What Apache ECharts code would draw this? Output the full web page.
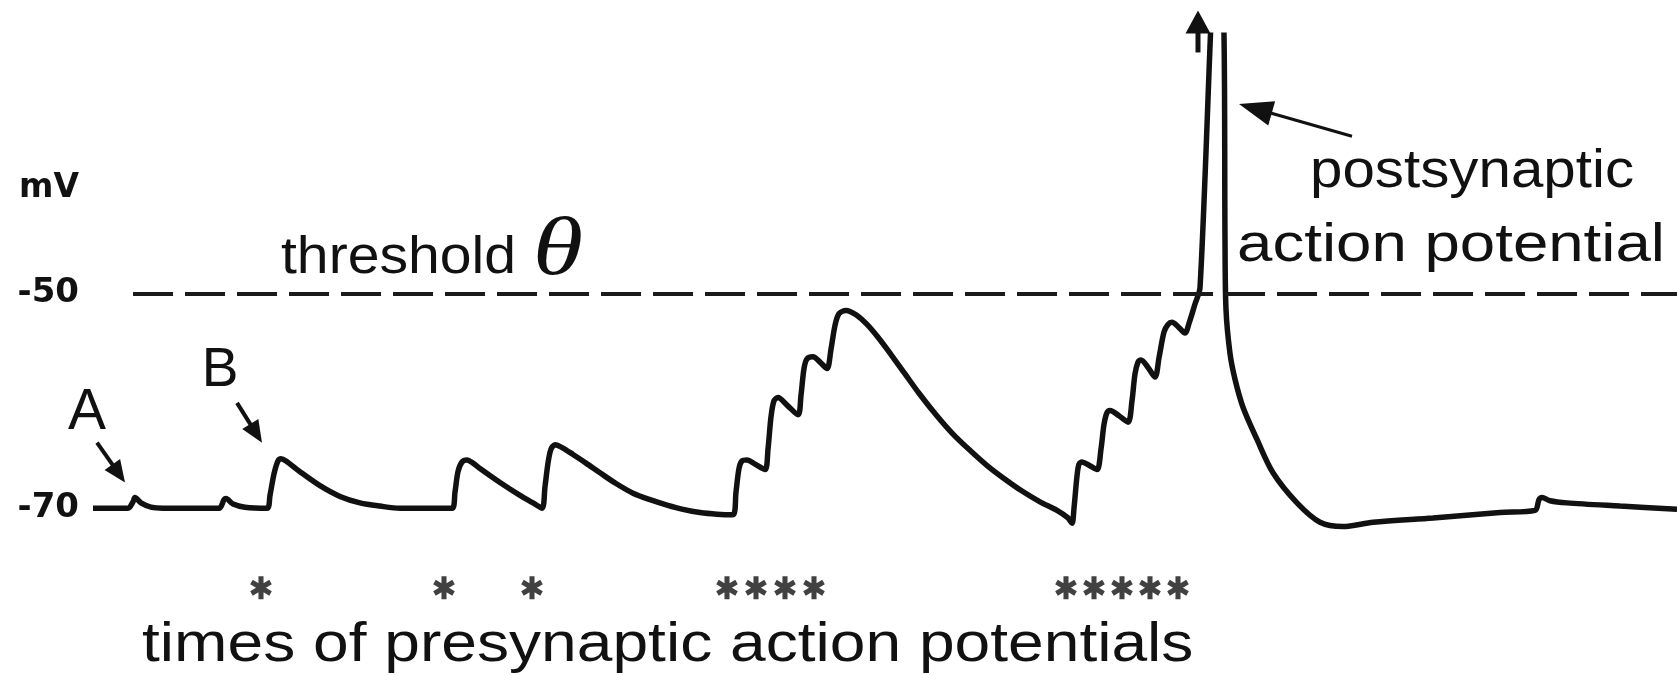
<!DOCTYPE html>
<html>
<head>
<meta charset="utf-8">
<script src="https://cdn.jsdelivr.net/npm/echarts@6/dist/echarts.min.js"></script>
<style>
  html, body { margin: 0; padding: 0; background: #ffffff; }
  #chart { width: 1677px; height: 675px; }
</style>
</head>
<body>
<div id="chart"></div>
<script>
// Postsynaptic membrane potential: time (ms) and voltage (mV)
const timeMs = [
  0.0, 3.5, 4.0, 4.2, 4.8, 5.8, 7.0, 12.6, 13.1, 13.3, 14.0, 15.2,
  17.4, 17.7, 18.1, 18.5, 18.8, 19.3, 20.7, 22.7, 24.7, 26.7, 28.7, 30.7,
  35.9, 36.2, 36.5, 36.9, 37.4, 38.0, 38.7, 40.7, 42.7, 44.0, 44.9,
  45.2, 45.5, 45.8, 46.2, 47.0, 48.0, 49.3, 50.7, 52.3, 54.0, 55.7, 57.4, 59.0, 60.7, 62.4, 64.0,
  64.3, 64.6, 64.9, 65.4, 66.2, 67.2, 67.5, 67.8, 68.1, 68.5, 69.4, 70.5,
  70.8, 71.1, 71.4, 72.0, 72.7, 73.4, 73.8, 74.2, 74.6, 75.3,
  76.3, 77.4, 78.5, 79.8, 81.2, 82.6, 84.3, 86.0, 87.8, 89.5, 91.2, 92.9, 94.7, 96.4, 97.5, 97.9,
  98.1, 98.4, 98.6, 98.9, 99.6, 100.4, 100.8, 101.1, 101.4, 101.7, 102.6, 103.5,
  103.9, 104.2, 104.5, 104.8, 105.5, 106.2, 106.6, 107.1, 107.5, 107.9, 108.5, 109.2,
  109.6, 110.2, 110.7, 112.5, 113.1, 113.2, 113.3, 113.7, 114.2, 115.0,
  116.4, 118.0, 120.4, 122.7, 125.0, 128.0, 134.0, 140.7, 144.2, 144.6, 144.9,
  145.7, 147.4, 152.7, 158.4
];
const membraneMv = [
  -70.0, -70.0, -69.4, -69.0, -69.5, -69.9, -70.0, -70.0, -69.2, -69.1, -69.6, -69.9,
  -70.0, -68.8, -66.8, -65.6, -65.4, -65.6, -66.6, -67.9, -68.9, -69.5, -69.8, -70.0,
  -70.0, -68.5, -66.6, -65.7, -65.5, -65.8, -66.3, -67.6, -68.8, -69.5, -70.0,
  -68.0, -65.8, -64.5, -64.1, -64.4, -65.0, -65.8, -66.7, -67.7, -68.6, -69.2, -69.7, -70.1, -70.4, -70.55, -70.6,
  -68.5, -66.3, -65.6, -65.5, -65.9, -66.4, -64.5, -61.5, -60.0, -59.7, -60.4, -61.3,
  -59.5, -57.0, -56.1, -55.9, -56.4, -57.0, -55.2, -53.0, -51.9, -51.6,
  -52.0, -52.9, -54.1, -55.7, -57.5, -59.3, -61.3, -63.1, -64.7, -66.1, -67.3, -68.4, -69.4, -70.2, -70.9, -71.4,
  -70.0, -67.0, -65.9, -65.7, -66.0, -66.4, -64.5, -62.2, -61.1, -60.9, -61.4, -62.0,
  -60.0, -57.5, -56.4, -56.2, -56.9, -57.8, -56.0, -53.6, -52.9, -52.7, -53.1, -53.7,
  -52.8, -51.0, -49.5, -15.0, -26.0, -45.0, -51.5, -55.6, -58.0, -60.6,
  -63.6, -66.7, -69.5, -71.3, -71.7, -71.3, -70.9, -70.4, -70.2, -69.2, -69.0,
  -69.3, -69.5, -69.8, -70.1
];
// Times of presynaptic action potentials (ms)
const presynapticTimes = [16.8, 35.1, 43.9, 63.4, 66.3, 69.2, 72.1, 97.3, 100.1, 102.9, 105.7, 108.5];
// Firing threshold (mV)
const thresholdMv = -50;
// Voltages labelled on the vertical axis
const yTickLabels = [-50, -70];
// Annotation arrows: tail and tip in (ms, mV)
const arrowTails = [[0.4, -63.9], [14.4, -60.2], [125.9, -35.4], [110.5, -27.6]];
const arrowTips  = [[3.2, -67.6], [16.9, -63.9], [114.6, -32.4], [110.5, -23.7]];

const ink = '#111111';
const markerRowMv = -77.4;

// six-armed asterisk used to mark presynaptic spike times
function asteriskPath() {
  const L = 10, w = 2.3;
  let d = '';
  [0, 60, 120].forEach(function (deg) {
    const r = deg * Math.PI / 180, c = Math.cos(r), s = Math.sin(r);
    const pts = [[-w, -L], [w, -L], [w, L], [-w, L]].map(function (p) {
      return [p[0] * c - p[1] * s, p[0] * s + p[1] * c];
    });
    d += 'M' + pts.map(function (p) { return p[0].toFixed(2) + ' ' + p[1].toFixed(2); }).join(' L') + ' Z ';
  });
  return 'path://' + d;
}

const chart = echarts.init(document.getElementById('chart'), null, { renderer: 'canvas' });

chart.setOption({
  animation: false,
  backgroundColor: '#ffffff',
  grid: { left: 93, right: 0, top: 35.25, bottom: 59.25 },
  xAxis: { type: 'value', min: 0, max: 158.4, show: false },
  yAxis: {
    type: 'value', min: -80, max: -26, interval: 10,
    axisLine: { show: false }, axisTick: { show: false }, splitLine: { show: false },
    axisLabel: {
      margin: 14, color: ink, fontFamily: 'DejaVu Sans', fontWeight: 'bold', fontSize: 34,
      formatter: function (v) { return yTickLabels.indexOf(v) >= 0 ? String(v) : ''; }
    }
  },
  series: [
    {
      type: 'line',
      data: timeMs.map(function (t, i) { return [t, membraneMv[i]]; }),
      symbol: 'none',
      smooth: 0.3,
      clip: true,
      lineStyle: { color: ink, width: 5.5 },
      z: 3,
      markLine: {
        silent: true,
        symbol: 'none',
        label: { show: false },
        lineStyle: { type: [40, 12], color: '#1a1a1a', width: 4 },
        data: [[{ coord: [4.0, thresholdMv] }, { coord: [158.4, thresholdMv] }]]
      }
    },
    {
      type: 'scatter',
      data: presynapticTimes.map(function (t) { return [t, markerRowMv]; }),
      symbol: asteriskPath(),
      symbolSize: [22, 23],
      symbolKeepAspect: true,
      itemStyle: { color: ink },
      clip: false
    }
  ]
});

// arrows and text annotations
const toPx = function (p) { return chart.convertToPixel({ gridIndex: 0 }, p); };
const arrowStyle = [
  { head: 22, width: 19, shaft: 4 },
  { head: 22, width: 19, shaft: 4 },
  { head: 34, width: 25, shaft: 3 },
  { head: 23, width: 25, shaft: 5 }
];
const graphics = [];
arrowTails.forEach(function (tail, i) {
  const a = toPx(tail), b = toPx(arrowTips[i]), st = arrowStyle[i];
  const dx = b[0] - a[0], dy = b[1] - a[1], len = Math.hypot(dx, dy);
  const ux = dx / len, uy = dy / len, nx = -uy, ny = ux;
  const bx = b[0] - ux * st.head, by = b[1] - uy * st.head;
  graphics.push({
    type: 'line', silent: true,
    shape: { x1: a[0], y1: a[1], x2: bx + ux * 3, y2: by + uy * 3 },
    style: { stroke: ink, lineWidth: st.shaft }
  });
  graphics.push({
    type: 'polygon', silent: true,
    shape: { points: [[b[0], b[1]], [bx + nx * st.width / 2, by + ny * st.width / 2], [bx - nx * st.width / 2, by - ny * st.width / 2]] },
    style: { fill: ink }
  });
});

function label(text, x, y, font, align, sx) {
  return {
    type: 'text', silent: true, x: x, y: y, scaleX: sx || 1,
    style: {
      text: text, font: font, fill: ink,
      align: align, textAlign: align, verticalAlign: 'middle', textVerticalAlign: 'middle'
    }
  };
}
const sans = '"Liberation Sans", Arial, sans-serif';
graphics.push(label('mV', 79, 188, 'bold 33px "DejaVu Sans"', 'right'));
graphics.push(label('A', 87, 413, '57px ' + sans, 'center'));
graphics.push(label('B', 220, 371, '55px ' + sans, 'center'));
graphics.push(label('threshold', 281, 259, '51px ' + sans, 'left', 1.12));
graphics.push(label('\u03b8', 558, 252, 'italic 82px "Liberation Serif"', 'center', 1.25));
graphics.push(label('postsynaptic', 1472, 172, '53px ' + sans, 'center', 1.1));
graphics.push(label('action potential', 1451, 246, '53px ' + sans, 'center', 1.2));
graphics.push(label('times of presynaptic action potentials', 142, 646, '56px ' + sans, 'left', 1.145));

chart.setOption({ graphic: graphics });
</script>
</body>
</html>
